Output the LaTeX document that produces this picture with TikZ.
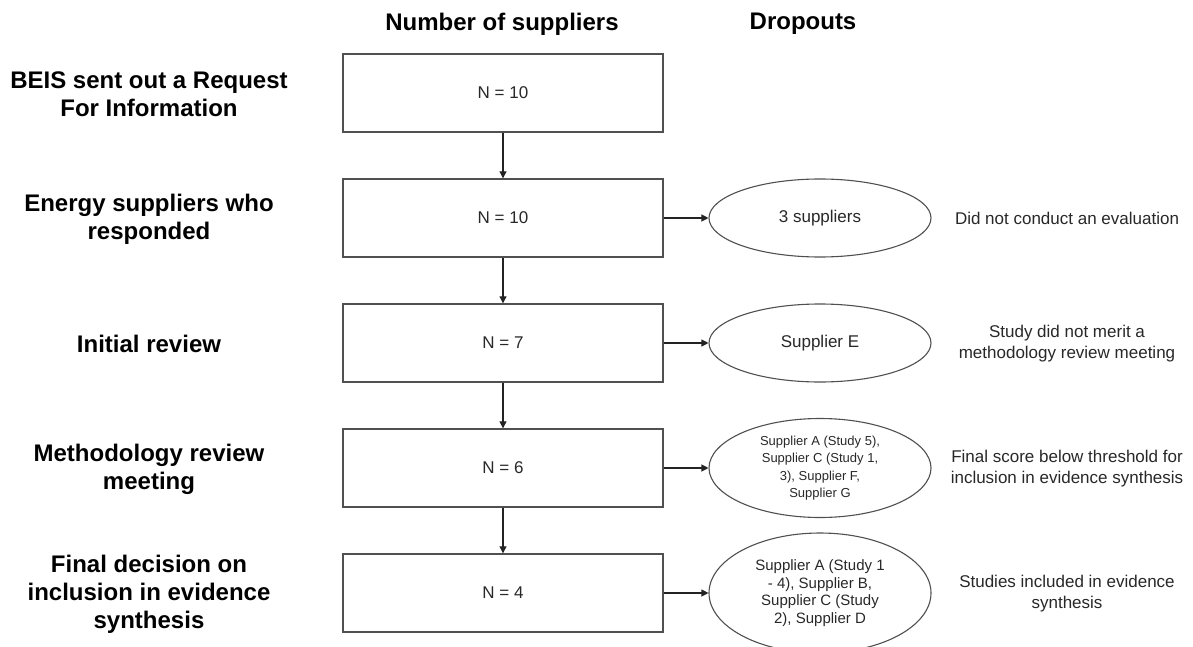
\documentclass[tikz,border=0pt]{standalone}
\usepackage{fontspec}
\setmainfont{Liberation Sans}
\usetikzlibrary{arrows.meta,shapes.geometric}
\definecolor{lineC}{RGB}{80,80,80}
\definecolor{arrC}{RGB}{35,35,35}
\definecolor{txtC}{RGB}{40,40,40}
\begin{document}
\begin{tikzpicture}[x=1pt,y=-1pt,
  stage/.style={font=\fontsize{24}{28}\selectfont\bfseries, align=center, text=black},
  head/.style={font=\fontsize{24}{28}\selectfont\bfseries, text=black},
  countbox/.style={draw=lineC, line width=1.4pt, minimum width=320pt, minimum height=78pt, inner sep=0pt, font=\fontsize{17}{20}\selectfont, text=txtC},
  drop/.style={ellipse, draw=lineC, line width=1.1pt, minimum width=222pt, minimum height=78pt, inner sep=0pt, align=center, text=txtC, font=\fontsize{17}{20}\selectfont},
  reason/.style={font=\fontsize{17}{21}\selectfont, align=center, text=txtC},
  flow/.style={-{Triangle[length=7pt,width=7pt]}, draw=arrC, line width=1.1pt}]
\useasboundingbox (0,0) rectangle (1193,647);
\clip (0,0) rectangle (1193,647);
\fill[white] (0,0) rectangle (1193,647);

% headers
\node[head] (h1) at (502,24) {Number of suppliers};
\node[head] (h2) at (803,24) {Dropouts};

% stage labels
\node[stage] (s1) at (149,94) {BEIS sent out a Request\\For Information};
\node[stage] (s2) at (149,219) {Energy suppliers who\\responded};
\node[stage] (s3) at (149,344) {Initial review};
\node[stage] (s4) at (149,469) {Methodology review\\meeting};
\node[stage] (s5) at (149,594) {Final decision on\\inclusion in evidence\\synthesis};

% count boxes
\node[countbox] (b1) at (503,93) {N = 10};
\node[countbox] (b2) at (503,218) {N = 10};
\node[countbox] (b3) at (503,343) {N = 7};
\node[countbox] (b4) at (503,468) {N = 6};
\node[countbox] (b5) at (503,593) {N = 4};

% dropout ellipses
\node[drop] (d2) at (820,218) {3 suppliers};
\node[drop] (d3) at (820,343) {Supplier E};
\node[drop, minimum height=99pt, font=\fontsize{13}{17.4}\selectfont] (d4) at (820,468)
  {Supplier A (Study 5),\\Supplier C (Study 1,\\3), Supplier F,\\Supplier G};
\node[drop, minimum height=120pt, font=\fontsize{15}{17.6}\selectfont] (d5) at (820,593)
  {Supplier A (Study 1\\- 4), Supplier B,\\Supplier C (Study\\2), Supplier D};

% reasons
\node[reason] (r2) at (1067,218) {Did not conduct an evaluation};
\node[reason] (r3) at (1067,344) {Study did not merit a\\methodology review meeting};
\node[reason] (r4) at (1067,469) {Final score below threshold for\\inclusion in evidence synthesis};
\node[reason] (r5) at (1067,594) {Studies included in evidence\\synthesis};

% connectors
\draw[flow] (b1) -- (b2);
\draw[flow] (b2) -- (b3);
\draw[flow] (b3) -- (b4);
\draw[flow] (b4) -- (b5);
\draw[flow] (b2) -- (d2);
\draw[flow] (b3) -- (d3);
\draw[flow] (b4) -- (d4);
\draw[flow] (b5) -- (d5);
\end{tikzpicture}
\end{document}
